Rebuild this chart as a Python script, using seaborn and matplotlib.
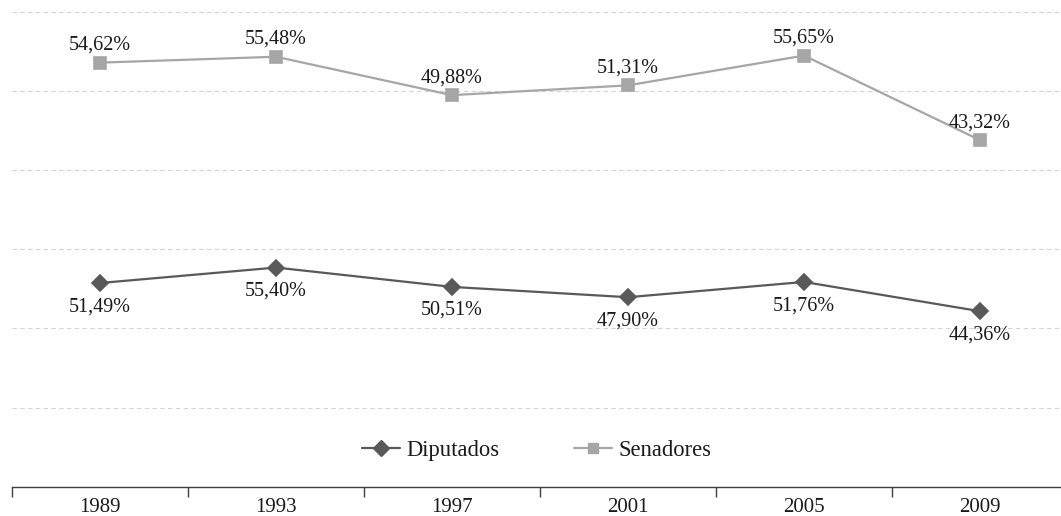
import matplotlib
matplotlib.use("Agg")
import matplotlib.pyplot as plt
from matplotlib.lines import Line2D
from matplotlib.ticker import MultipleLocator, FixedLocator, NullFormatter
import seaborn as sns
import pandas as pd

# Election years and participation shares (%)
years = ["1989", "1993", "1997", "2001", "2005", "2009"]
diputados = [51.49, 55.40, 50.51, 47.90, 51.76, 44.36]
senadores = [54.62, 55.48, 49.88, 51.31, 55.65, 43.32]

dip_df = pd.DataFrame({"year": years, "value": diputados})
sen_df = pd.DataFrame({"year": years, "value": senadores})

sns.set_theme(style="white")
plt.rcParams["font.family"] = ["Liberation Serif", "DejaVu Serif"]

DIP_COLOR = "#595959"
SEN_COLOR = "#a6a6a6"
GRID_COLOR = "#d4d4d4"
TEXT_COLOR = "#1a1a1a"

fig = plt.figure(figsize=(10.61, 5.16), dpi=100)
ax = fig.add_axes([0.0113, 0.0568, 0.9887, 0.9199])
ax2 = ax.twinx()

# Diputados on the primary scale (0-120)
sns.pointplot(data=dip_df, x="year", y="value", ax=ax, color=DIP_COLOR,
              markers="D", errorbar=None, markersize=8.5, linewidth=1.6)
# Senadores on the secondary scale
sns.pointplot(data=sen_df, x="year", y="value", ax=ax2, color=SEN_COLOR,
              markers="s", errorbar=None, markersize=8, linewidth=1.6)

ax.set_ylim(0, 120)
ax2.set_ylim(-7.2, 62.0)
ax.set_xlim(-0.5, 5.46)

# Dashed horizontal gridlines
ax.yaxis.set_major_locator(MultipleLocator(20))
ax.grid(axis="y", color=GRID_COLOR, linestyle=(0, (4, 3)), linewidth=0.8)
ax.grid(axis="x", visible=False)
ax.set_axisbelow(True)

for a in (ax, ax2):
    a.set_xlabel("")
    a.set_ylabel("")
    a.tick_params(axis="y", left=False, right=False, labelleft=False, labelright=False)
    for side in ("left", "right", "top"):
        a.spines[side].set_visible(False)
ax2.spines["bottom"].set_visible(False)
ax2.grid(False)

ax.spines["bottom"].set_color("#404040")
ax.spines["bottom"].set_linewidth(1.0)

# Category ticks between years
ax.xaxis.set_minor_locator(FixedLocator([i - 0.5 for i in range(len(years) + 1)]))
ax.xaxis.set_minor_formatter(NullFormatter())
ax.tick_params(axis="x", which="minor", bottom=True, length=7.5, width=1.0,
               color="#404040", direction="out")
ax.tick_params(axis="x", which="major", bottom=True, length=0, pad=8.5,
               labelsize=15, labelcolor=TEXT_COLOR)
ax.set_xticks(range(len(years)))
ax.set_xticklabels(years)

def fmt(v):
    return f"{v:.2f}".replace(".", ",") + "%"

for i, v in enumerate(diputados):
    ax.annotate(fmt(v), (i, v), xytext=(0, -17), textcoords="offset points",
                ha="center", va="center", fontsize=14.5, color=TEXT_COLOR)
for i, v in enumerate(senadores):
    ax2.annotate(fmt(v), (i, v), xytext=(0, 12.5), textcoords="offset points",
                 ha="center", va="center", fontsize=14.5, color=TEXT_COLOR)

handles = [
    Line2D([], [], color=DIP_COLOR, marker="D", markersize=8, linewidth=1.6),
    Line2D([], [], color=SEN_COLOR, marker="s", markersize=7, linewidth=1.6),
]
leg = ax2.legend(handles, ["Diputados", "Senadores"], loc="center",
                 bbox_to_anchor=(0.5, 0.077), ncol=2, frameon=False,
                 fontsize=16.3, handlelength=1.7, handletextpad=0.25,
                 columnspacing=3.3)
for t in leg.get_texts():
    t.set_color(TEXT_COLOR)

fig.savefig("out.png", dpi=100)
